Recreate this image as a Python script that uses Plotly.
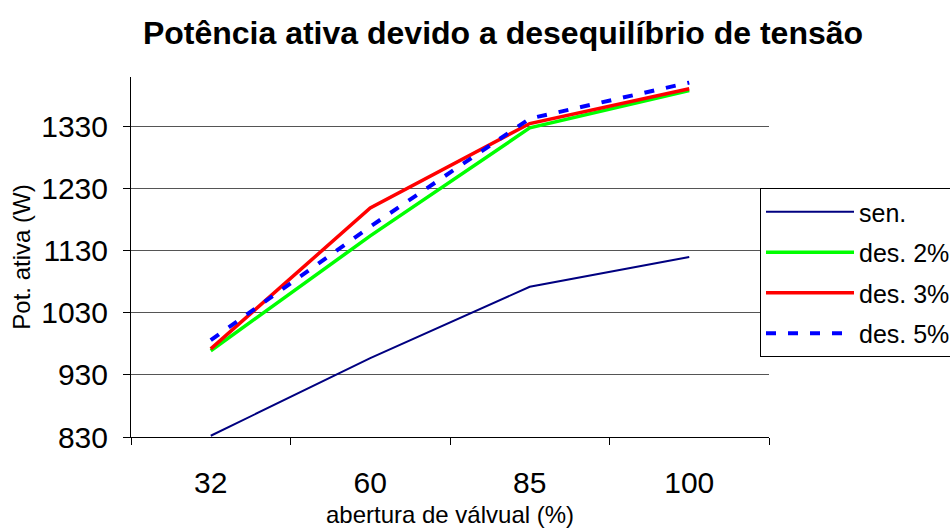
import plotly.graph_objects as go

categories = ["32", "60", "85", "100"]
sen = [832, 957, 1072, 1120]
des2 = [969, 1154, 1328, 1388]
des3 = [972, 1199, 1335, 1391]
des5 = [986, 1169, 1343, 1401]
y_ticks = [830, 930, 1030, 1130, 1230, 1330]

FONT = "Liberation Sans, Arial, sans-serif"

fig = go.Figure()
fig.add_trace(go.Scatter(x=categories, y=sen, mode="lines", name="sen.",
                         legendgroup="a", line=dict(color="#000080", width=2)))
fig.add_trace(go.Scatter(x=categories, y=des2, mode="lines", name="des. 2%",
                         legendgroup="b", line=dict(color="#00FF00", width=3.5)))
fig.add_trace(go.Scatter(x=categories, y=des3, mode="lines", name="des. 3%",
                         legendgroup="c", line=dict(color="#FF0000", width=3.5)))
fig.add_trace(go.Scatter(x=categories, y=des5, mode="lines", name="des. 5%",
                         legendgroup="d", line=dict(color="#0000FF", width=4, dash="10px,12px")))

fig.update_layout(
    width=950, height=528,
    margin=dict(l=131, r=181, t=77, b=91, autoexpand=False),
    paper_bgcolor="white", plot_bgcolor="white",
    font=dict(family=FONT, color="black"),
    title=dict(text="<b>Potência ativa devido a desequilíbrio de tensão</b>",
               x=503/950, xanchor="center", y=1 - 33/528, yanchor="middle",
               font=dict(family=FONT, size=32, color="black")),
    legend=dict(x=(760-131)/638, xanchor="left", y=(437-188)/360, yanchor="top",
                bgcolor="white", bordercolor="black", borderwidth=1,
                font=dict(family=FONT, size=25, color="black"),
                itemwidth=88,
                tracegroupgap=5, traceorder="grouped"),
    xaxis=dict(type="category", range=[-0.5, 3.5], automargin=False,
               showline=True, linecolor="black", linewidth=1,
               ticks="outside", tickson="boundaries", ticklen=7, tickcolor="black",
               showgrid=False, zeroline=False,
               tickfont=dict(family=FONT, size=30, color="black"),
               ticklabelstandoff=19,
               title=dict(text="abertura de válvual (%)", standoff=10,
                          font=dict(family=FONT, size=24, color="black"))),
    yaxis=dict(range=[830, 1410], tickvals=y_ticks, automargin=False,
               showline=True, linecolor="black", linewidth=1,
               ticks="outside", ticklen=7, tickcolor="black",
               showgrid=True, gridcolor="#555555", gridwidth=1,
               zeroline=False,
               tickfont=dict(family=FONT, size=30, color="black"),
               ticklabelstandoff=9,
               title=dict(text="Pot. ativa (W)", standoff=3,
                          font=dict(family=FONT, size=24, color="black"))),
)

fig.write_html("out.html", config={"displayModeBar": False},
               post_script="document.body.style.margin='0';")
